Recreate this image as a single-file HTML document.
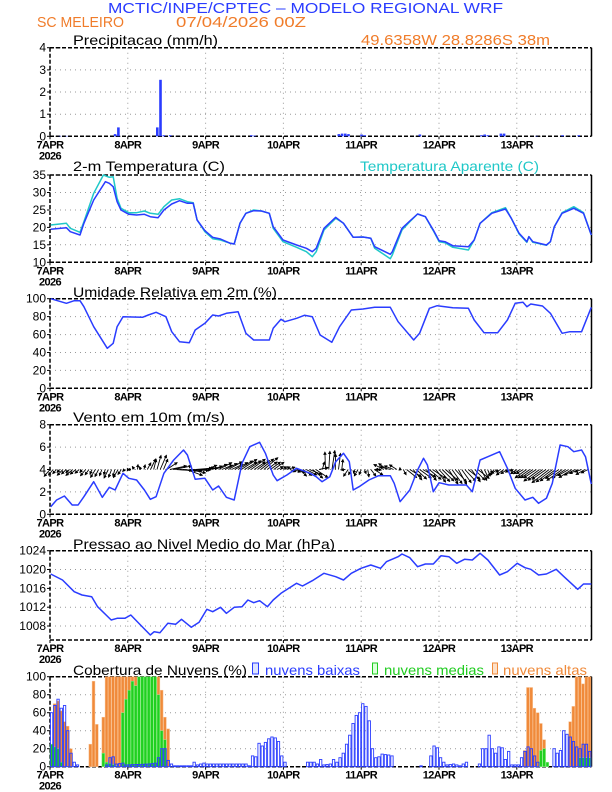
<!DOCTYPE html>
<html><head><meta charset="utf-8">
<style>
html,body{margin:0;padding:0;background:#fff;}
svg{display:block;font-family:"Liberation Sans",sans-serif;}
</style></head>
<body>
<svg id="s" width="612" height="792" viewBox="0 0 612 792" xmlns="http://www.w3.org/2000/svg"></svg>
<script>
var o='';
var X0=50,DW=77.8,XR=591.5,HW=DW/24;
function T(x,y,s,c,fs,extra){o+='<text x="'+x+'" y="'+y+'" fill="'+c+'" font-size="'+fs+'" '+(extra||'')+'>'+s+'</text>';}
function frame(top,bot,ticks,last){
  for(var d=1;d<=6;d++){var x=X0+d*DW;o+='<line x1="'+x+'" y1="'+top+'" x2="'+x+'" y2="'+bot+'" stroke="#999" stroke-width="1" stroke-dasharray="1,4"/>';}
  ticks.forEach(function(t){o+='<line x1="'+X0+'" y1="'+t[1]+'" x2="'+XR+'" y2="'+t[1]+'" stroke="#999" stroke-width="1" stroke-dasharray="1,4"/>';
   o+='<line x1="'+(X0-3)+'" y1="'+t[1]+'" x2="'+X0+'" y2="'+t[1]+'" stroke="#000"/>';
   T(46,t[1]+4,t[0],'#000',12,'text-anchor="end"');});
  o+='<line x1="'+X0+'" y1="'+top+'" x2="'+XR+'" y2="'+top+'" stroke="#000" stroke-width="1.5" stroke-dasharray="4,2"/>';
  o+='<line x1="'+X0+'" y1="'+bot+'" x2="'+XR+'" y2="'+bot+'" stroke="#000" stroke-width="1.5" stroke-dasharray="4,2"/>';
  o+='<line x1="'+X0+'" y1="'+top+'" x2="'+X0+'" y2="'+bot+'" stroke="#000" stroke-width="1.5" stroke-dasharray="4,2"/>';
  o+='<line x1="'+XR+'" y1="'+top+'" x2="'+XR+'" y2="'+bot+'" stroke="#000" stroke-width="1.5"/>';
  var labs=['7APR','8APR','9APR','10APR','11APR','12APR','13APR'];
  for(var d=0;d<7;d++){var x=X0+d*DW;o+='<line x1="'+x+'" y1="'+bot+'" x2="'+x+'" y2="'+(bot+3)+'" stroke="#000"/>';
   T(x,bot+12,labs[d],'#000',11,'text-anchor="middle" font-weight="bold" letter-spacing="-0.6"');}
  T(X0,bot+23,'2026','#000',11,'text-anchor="middle" font-weight="bold" letter-spacing="-0.6"');
}
function poly(pts,off,c,w){o+='<polyline points="'+pts.map(function(p){return (p[0]/2.562).toFixed(1)+','+(p[1]/3+off).toFixed(1);}).join(' ')+'" fill="none" stroke="'+c+'" stroke-width="'+w+'" stroke-linejoin="round"/>';}
function kp(list,n){var a=[];for(var h=0;h<n;h++){var v=0;for(var i=0;i<list.length-1;i++){if(h>=list[i][0]&&h<=list[i+1][0]){var t=(list[i+1][0]==list[i][0])?0:(h-list[i][0])/(list[i+1][0]-list[i][0]);v=list[i][1]+t*(list[i+1][1]-list[i][1]);break;}}a.push(v);}return a;}

// headers
T(108,13,'MCTIC/INPE/CPTEC – MODELO REGIONAL WRF','#2a3cff',15,'textLength="395" lengthAdjust="spacingAndGlyphs"');
T(37,27,'SC MELEIRO','#f07c2a',15,'textLength="87" lengthAdjust="spacingAndGlyphs"');
T(176,27,'07/04/2026 00Z','#f07c2a',15,'textLength="130" lengthAdjust="spacingAndGlyphs"');
T(361,45,'49.6358W 28.8286S 38m','#f07c2a',15,'textLength="189" lengthAdjust="spacingAndGlyphs"');
function title(y,s,w){T(73,y,s,'#000',14,'textLength="'+w+'" lengthAdjust="spacingAndGlyphs"');}
title(45,'Precipitacao (mm/h)',145);
title(171,'2-m Temperatura (C)',152);
T(360,171,'Temperatura Aparente (C)','#20c8c8',14,'textLength="179" lengthAdjust="spacingAndGlyphs"');
title(297,'Umidade Relativa em 2m (%)',204);
title(422,'Vento em 10m (m/s)',152);
title(549,'Pressao ao Nivel Medio do Mar (hPa)',262);
title(675,'Cobertura de Nuvens (%)',174);
o+='<rect x="252.5" y="663" width="6" height="11" fill="#dde4ff" stroke="#2a3cff"/>';
T(265,675,'nuvens baixas','#2a3cff',14,'textLength="95" lengthAdjust="spacingAndGlyphs"');
o+='<rect x="372.5" y="663" width="5" height="11" fill="#dfd" stroke="#20cc20"/>';
T(384,675,'nuvens medias','#20cc20',14,'textLength="100" lengthAdjust="spacingAndGlyphs"');
o+='<rect x="492.5" y="663" width="5" height="11" fill="#fde0c8" stroke="#f08a3a"/>';
T(503,675,'nuvens altas','#f08a3a',14,'textLength="84" lengthAdjust="spacingAndGlyphs"');

// Panel 1 precip
frame(47.7,136.3,[[0,136.3],[1,114.2],[2,92],[3,69.9],[4,47.7]]);
var pr=[[20,0.1],[21,0.4],[33,0.4],[34,2.55],[35,0.05],[37,0.05],[62,0.05],[63,0.03],[89,0.1],[90,0.12],[91,0.12],[92,0.1],[96,0.08],[97,0.05],[114,0.08],[133,0.05],[134,0.08],[135,0.05],[139,0.12],[140,0.12],[158,0.05],[163,0.05],[3,0.02],[5,0.02],[150,0.02]];
pr.forEach(function(p){var h=p[1]*22.15;o+='<rect x="'+(X0+p[0]*HW-1).toFixed(1)+'" y="'+(136.3-h).toFixed(1)+'" width="2.6" height="'+h.toFixed(1)+'" fill="#2a3cff"/>';});

// Panel 2 temp
frame(175,262.3,[[10,262.3],[15,244.8],[20,227.4],[25,210],[30,192.5],[35,175]]);
var tb=[[130,208],[170,203],[180,215],[205,225],[215,190],[240,120],[270,65],[280,70],[290,80],[300,125],[310,150],[330,163],[350,165],[370,163],[385,170],[405,173],[420,150],[440,132],[460,122],[480,130],[495,130],[505,180],[525,212],[545,232],[565,237],[590,250],[600,252],[615,190],[630,160],[650,152],[670,153],[690,160],[700,200],[725,240],[760,255],[785,265],[800,275],[810,265],[830,205],[860,172],[880,190],[905,232],[930,231],[950,235],[960,260],[1000,283],[1005,275],[1030,205],[1050,183],[1070,162],[1090,170],[1110,210],[1125,242],[1140,245],[1160,257],[1200,260],[1215,240],[1230,190],[1260,160],[1295,147],[1310,175],[1330,220],[1350,245],[1355,230],[1365,245],[1400,255],[1410,245],[1420,200],[1440,160],[1470,145],[1495,160],[1515,225]];
var tc=[[130,195],[170,190],[180,205],[205,217],[215,185],[240,100],[265,45],[280,52],[290,50],[300,115],[310,145],[330,158],[350,158],[370,153],[385,160],[405,163],[420,140],[440,120],[460,116],[480,125],[495,128],[505,180],[525,215],[545,236],[565,240],[590,250],[600,252],[615,190],[630,160],[650,150],[670,153],[690,160],[700,205],[725,245],[760,262],[785,275],[800,290],[810,275],[830,210],[860,175],[880,190],[905,232],[930,231],[950,235],[960,265],[1000,296],[1005,285],[1030,210],[1050,185],[1070,162],[1090,170],[1110,212],[1125,245],[1140,248],[1160,262],[1200,270],[1215,240],[1230,190],[1260,158],[1295,143],[1310,175],[1330,222],[1350,247],[1355,230],[1365,247],[1400,256],[1410,245],[1420,200],[1440,158],[1470,140],[1495,158],[1515,225]];
poly(tc,160,'#20c8c8',1.5);poly(tb,160,'#2a3cff',1.5);

// Panel 3 RH
frame(298.7,388.3,[[0,388.3],[20,370.4],[40,352.5],[60,334.6],[80,316.6],[100,298.7]]);
var rh=[[130,416],[170,430],[190,422],[205,422],[215,440],[240,500],[275,565],[290,550],[300,500],[315,470],[365,472],[380,465],[400,457],[425,470],[440,515],[460,545],[485,548],[500,510],[525,490],[545,465],[560,468],[580,460],[610,455],[630,520],[650,540],[690,540],[700,505],[720,478],[730,485],[760,475],[780,466],[800,470],[820,525],[850,547],[870,500],[900,450],[930,447],[960,442],[1000,442],[1020,485],[1060,540],[1075,520],[1100,445],[1120,437],[1160,443],[1200,445],[1215,480],[1240,518],[1275,518],[1300,480],[1320,430],[1340,427],[1350,440],[1360,432],[1390,438],[1410,460],[1440,520],[1460,515],[1490,515],[1515,442]];
poly(rh,160,'#2a3cff',1.5);

// Panel 4 wind
frame(424.7,514.3,[[0,514.3],[2,491.9],[4,469.5],[6,447.1],[8,424.7]]);
var y4=469.5;
o+='<defs><marker id="ah" markerWidth="4" markerHeight="4" refX="3" refY="2" orient="auto"><path d="M0,0 L4,2 L0,4 z" fill="#000"/></marker></defs>';
var dirs=[[0,-4,5],[8,-5,4],[14,-3,6],[20,-3,8],[26,-2,-3],[30,3,-6],[33,4,-14],[35,6,-12],[37,16,-3],[42,18,4],[48,10,-3],[54,12,-6],[58,14,-8],[66,12,-10],[72,6,-2],[76,8,4],[82,12,8],[85,0,-18],[89,2,-16],[92,-4,6],[96,-2,5],[100,8,6],[103,-10,-5],[107,-8,-4],[110,10,8],[118,12,10],[124,10,14],[132,10,10],[138,-6,4],[144,-5,3],[150,-14,10],[156,-16,12],[162,-10,5],[167,-6,3]];
var du=kp(dirs.map(function(d){return [d[0],d[1]];}),168),dv=kp(dirs.map(function(d){return [d[0],d[2]];}),168);
for(var h=0;h<167;h++){var x=X0+h*HW,j=((h*37)%7-3)*0.6;o+='<line x1="'+x.toFixed(1)+'" y1="'+y4+'" x2="'+(x+du[h]+j).toFixed(1)+'" y2="'+(y4+dv[h]-j).toFixed(1)+'" stroke="#000" stroke-width="0.9" marker-end="url(#ah)"/>';}
var ws=[[130,290],[145,270],[165,258],[185,285],[200,285],[215,260],[240,215],[262,262],[280,232],[295,240],[315,190],[330,205],[350,210],[370,240],[385,268],[400,260],[420,190],[445,150],[470,120],[480,135],[500,208],[525,205],[545,240],[560,228],[580,262],[600,270],[620,160],[640,110],[665,97],[680,130],[700,195],[710,212],[735,195],[760,175],[795,190],[810,200],[825,215],[845,200],[860,155],[880,130],[895,155],[905,240],[920,230],[945,210],[970,197],[1000,197],[1010,220],[1025,275],[1050,240],[1070,180],[1085,145],[1095,165],[1110,245],[1125,218],[1150,225],[1195,225],[1210,245],[1230,150],[1250,140],[1280,125],[1300,175],[1320,235],[1345,270],[1365,262],[1380,280],[1400,265],[1415,220],[1435,105],[1455,110],[1470,125],[1490,120],[1500,140],[1515,222]];
poly(ws,410,'#2a3cff',1.5);

// Panel 5 pressure
frame(550.7,640,[[1008,626],[1012,607.2],[1016,588.4],[1020,569.5],[1024,550.7]]);
var ps=[[130,492],[160,510],[190,545],[210,555],[235,560],[250,590],[285,630],[300,625],[320,625],[335,615],[360,645],[385,675],[395,665],[410,668],[430,640],[450,643],[465,628],[490,652],[510,637],[530,598],[545,605],[565,592],[580,610],[600,592],[620,590],[635,570],[650,578],[665,572],[685,590],[700,570],[720,550],[740,535],[760,520],[775,528],[800,512],[830,490],[860,500],[880,510],[900,490],[925,475],[950,465],[975,475],[990,455],[1020,440],[1030,432],[1050,443],[1070,470],[1090,462],[1110,462],[1130,437],[1150,440],[1170,460],[1190,448],[1210,450],[1230,430],[1250,450],[1280,495],[1300,485],[1325,460],[1345,473],[1360,478],[1380,495],[1400,492],[1425,478],[1445,500],[1480,538],[1495,522],[1515,522]];
poly(ps,410,'#2a3cff',1.5);

// Panel 6 clouds
frame(676.7,766.7,[[0,766.7],[20,748.7],[40,730.7],[60,712.7],[80,694.7],[100,676.7]]);
function cy(v){return 766.7-v*0.9;}
var hi=kp([[0,0],[1,70],[2,73],[3,62],[4,50],[5,45],[6,20],[7,0],[11,0],[12,25],[13,95],[14,47],[15,0],[16,55],[17,100],[33,100],[34,85],[35,55],[36,42],[37,0],[145,0],[146,18],[147,88],[148,88],[149,65],[150,60],[151,48],[152,30],[153,0],[159,0],[160,50],[161,67],[162,100],[163,100],[164,92],[165,100],[167,100]],168);
var mid=kp([[0,25],[1,22],[2,20],[3,5],[4,0],[15,0],[16,15],[17,5],[21,0],[22,60],[23,75],[24,85],[25,95],[26,90],[27,100],[32,100],[33,80],[34,40],[35,30],[36,0],[150,0],[151,18],[152,20],[153,5],[154,0],[162,0],[163,10],[166,10],[167,0]],168);
var lo=kp([[0,60],[1,68],[2,75],[3,65],[4,68],[5,40],[6,15],[7,5],[8,2],[9,0],[16,0],[17,2],[18,10],[19,11],[20,3],[22,4],[23,2],[30,3],[32,4],[33,10],[34,20],[35,20],[36,7],[37,3],[38,1],[43,1],[44,5],[45,2],[47,4],[48,3],[60,3],[61,1],[62,12],[63,11],[64,26],[65,23],[66,27],[67,31],[68,33],[69,32],[70,28],[71,12],[72,5],[73,0],[78,0],[79,5],[81,5],[82,3],[83,8],[84,2],[86,3],[87,8],[88,5],[89,10],[90,15],[91,25],[92,35],[93,48],[94,57],[95,60],[96,70],[97,67],[98,51],[99,20],[100,10],[101,11],[102,14],[104,13],[105,12],[106,0],[113,0],[114,1],[116,0],[117,12],[118,23],[119,21],[120,10],[121,5],[122,2],[124,3],[126,1],[127,3],[128,5],[129,0],[131,0],[132,3],[133,20],[134,20],[135,35],[136,20],[137,15],[138,22],[139,21],[140,8],[141,17],[142,2],[144,2],[145,10],[146,17],[147,22],[148,20],[149,12],[150,5],[151,0],[154,0],[155,20],[156,15],[157,18],[158,40],[159,36],[160,33],[161,28],[162,22],[163,20],[164,25],[165,25],[166,17],[167,17]],168);
for(var h=0;h<167;h++){var x=(X0+h*HW).toFixed(1);
 if(hi[h]>0.5)o+='<rect x="'+x+'" y="'+cy(hi[h]).toFixed(1)+'" width="'+(HW-0.4).toFixed(2)+'" height="'+(hi[h]*0.9).toFixed(1)+'" fill="#f08a3a" stroke="#f8c090" stroke-width="0.5"/>';}
for(var h=0;h<167;h++){var x=(X0+h*HW).toFixed(1);
 if(mid[h]>0.5)o+='<rect x="'+x+'" y="'+cy(mid[h]).toFixed(1)+'" width="'+(HW-0.4).toFixed(2)+'" height="'+(mid[h]*0.9).toFixed(1)+'" fill="#20d020" stroke="#90f090" stroke-width="0.5"/>';}
for(var h=0;h<167;h++){var x=(X0+h*HW+0.4).toFixed(1);
 if(lo[h]>0.5)o+='<rect x="'+x+'" y="'+cy(lo[h]).toFixed(1)+'" width="'+(HW-0.9).toFixed(2)+'" height="'+(lo[h]*0.9).toFixed(1)+'" fill="none" stroke="#2a3cff" stroke-width="0.9"/>';}

document.getElementById('s').innerHTML=o;
</script>
</body></html>
